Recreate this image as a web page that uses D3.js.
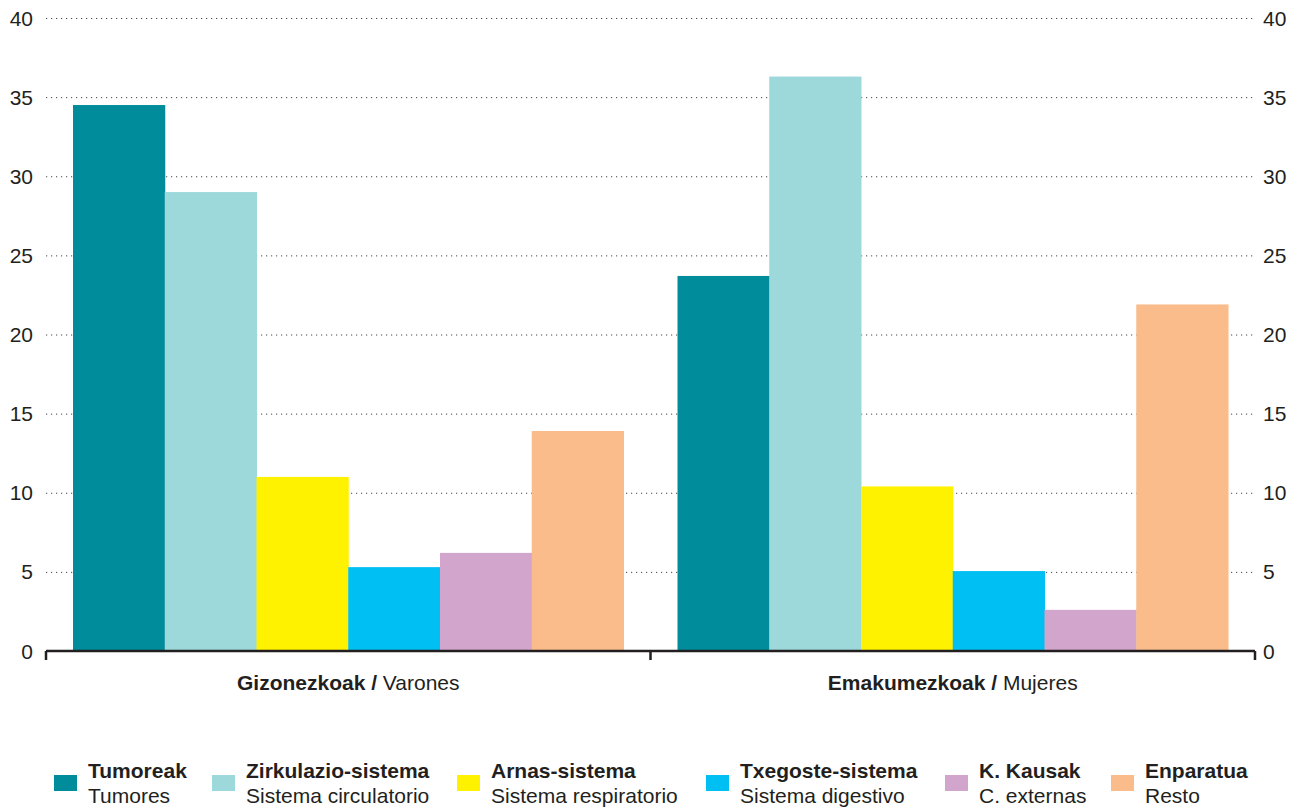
<!DOCTYPE html>
<html>
<head>
<meta charset="utf-8">
<script src="https://cdn.jsdelivr.net/npm/d3@7"></script>
<style>
  body { margin: 0; background: #fff; }
  svg { font-family: "Liberation Sans", Arial, sans-serif; }
</style>
</head>
<body>
<svg id="chart" width="1304" height="808"></svg>
<script>
// data
var groups = ["Gizonezkoak", "Emakumezkoak"];
var groupSub = ["Varones", "Mujeres"];
var causesEu = ["Tumoreak", "Zirkulazio-sistema", "Arnas-sistema", "Txegoste-sistema", "K. Kausak", "Enparatua"];
var causesEs = ["Tumores", "Sistema circulatorio", "Sistema respiratorio", "Sistema digestivo", "C. externas", "Resto"];
var varones = [34.5, 29.0, 11.0, 5.3, 6.2, 13.9];
var mujeres = [23.7, 36.3, 10.4, 5.05, 2.6, 21.9];
var yTicks = [0, 5, 10, 15, 20, 25, 30, 35, 40];
var colors = ["#008c9b", "#9dd8db", "#fff200", "#00bff3", "#d2a6cc", "#f9bc8a"];
var legendX = [54, 212, 457, 706, 945, 1111];

var translate = function(x, y) { return "translate(" + x + "," + y + ")"; };

var svg = d3.select("#chart");
var margin = { left: 46, right: 1255, top: 18, bottom: 651 };
var textColor = "#231f20";

var y = d3.scaleLinear().domain([0, 40]).range([margin.bottom, margin.top]);
var x0 = d3.scaleBand().domain(groups).range([margin.left, margin.right]);
var x1 = d3.scaleBand().domain(causesEu).range([27, x0.bandwidth() - 27]);

var values = [varones, mujeres];

// dotted gridlines
svg.append("g").selectAll("line")
  .data(yTicks.filter(function(d) { return d > 0; }))
  .enter().append("line")
  .attr("x1", margin.left).attr("x2", margin.right)
  .attr("y1", function(d) { return y(d) + 0.5; })
  .attr("y2", function(d) { return y(d) + 0.5; })
  .attr("stroke", "#444")
  .attr("stroke-width", 1)
  .attr("stroke-dasharray", "1.2,3.8");

// bars
var g = svg.selectAll(".group")
  .data(groups)
  .enter().append("g")
  .attr("class", "group")
  .attr("transform", function(d) { return translate(x0(d), 0); });

g.selectAll("rect")
  .data(function(d, i) { return values[i].map(function(v, j) { return {k: causesEu[j], v: v, c: colors[j]}; }); })
  .enter().append("rect")
  .attr("x", function(d) { return x1(d.k); })
  .attr("width", x1.bandwidth() + 0.5)
  .attr("y", function(d) { return y(d.v); })
  .attr("height", function(d) { return y(0) - y(d.v); })
  .attr("fill", function(d) { return d.c; });

// y labels both sides
var yl = svg.append("g").style("font-size", "21px").attr("fill", textColor);
yl.selectAll(".l").data(yTicks).enter().append("text")
  .attr("x", 33).attr("y", function(d) { return y(d); })
  .attr("dy", "0.36em").attr("text-anchor", "end")
  .text(function(d) { return d; });
yl.selectAll(".r").data(yTicks).enter().append("text")
  .attr("x", 1263).attr("y", function(d) { return y(d); })
  .attr("dy", "0.36em").attr("text-anchor", "start")
  .text(function(d) { return d; });

// x axis line and ticks
var xa = svg.append("g");
xa.append("line")
  .attr("x1", margin.left).attr("x2", margin.right)
  .attr("y1", margin.bottom).attr("y2", margin.bottom)
  .attr("stroke", "#231f20").attr("stroke-width", 2.5);
xa.selectAll(".tk")
  .data([margin.left, x0(groups[1]), margin.right])
  .enter().append("line")
  .attr("x1", function(d) { return d; }).attr("x2", function(d) { return d; })
  .attr("y1", margin.bottom).attr("y2", margin.bottom + 9)
  .attr("stroke", "#231f20").attr("stroke-width", 2.5);

// group labels
var gl = svg.append("g").style("font-size", "21px").attr("fill", textColor);
groups.forEach(function(name, i) {
  var t = gl.append("text")
    .attr("x", x0(name) + x0.bandwidth() / 2)
    .attr("y", 690)
    .attr("text-anchor", "middle");
  t.append("tspan").attr("font-weight", "bold").text(name + " /");
  t.append("tspan").text(" " + groupSub[i]);
});

// legend
var legend = svg.selectAll(".legend")
  .data(causesEu)
  .enter().append("g")
  .attr("class", "legend")
  .attr("transform", function(d, i) { return translate(legendX[i], 0); })
  .style("font-size", "21px")
  .attr("fill", textColor);

legend.append("rect")
  .attr("x", 0).attr("y", 775)
  .attr("width", 23).attr("height", 16)
  .attr("fill", function(d, i) { return colors[i]; });

legend.append("text")
  .attr("x", 34).attr("y", 778)
  .attr("font-weight", "bold")
  .text(function(d) { return d; });

legend.append("text")
  .attr("x", 34).attr("y", 803)
  .text(function(d, i) { return causesEs[i]; });
</script>
</body>
</html>
